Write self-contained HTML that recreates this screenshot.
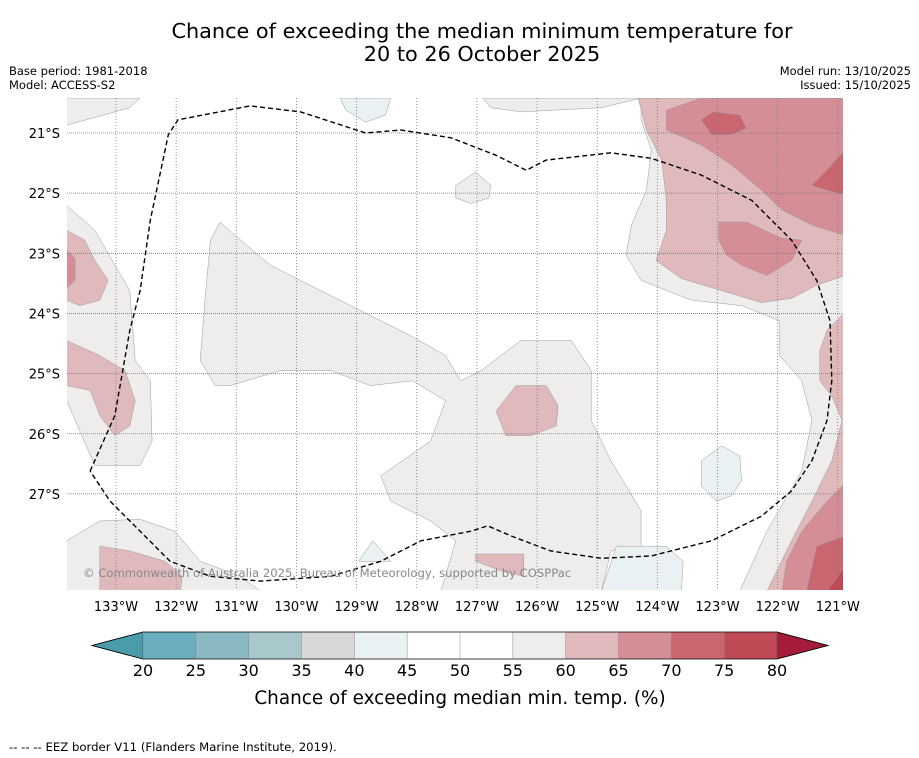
<!DOCTYPE html>
<html><head><meta charset="utf-8">
<style>
body{margin:0;background:#fff;font-family:"Liberation Sans","DejaVu Sans",sans-serif;}
#wrap{position:relative;width:919px;height:758px;overflow:hidden;background:#fff;}
</style></head>
<body>
<div id="wrap">
<svg id="svg" width="919" height="758" xmlns="http://www.w3.org/2000/svg">
<text x="482" y="38" font-size="20.8" text-anchor="middle" fill="#000" font-family="DejaVu Sans, sans-serif">Chance of exceeding the median minimum temperature for</text>
<text x="482" y="61" font-size="20.8" text-anchor="middle" fill="#000" font-family="DejaVu Sans, sans-serif">20 to 26 October 2025</text>
<text x="9" y="75" font-size="11.5" fill="#000" font-family="DejaVu Sans, sans-serif">Base period: 1981-2018</text>
<text x="9" y="89" font-size="11.5" fill="#000" font-family="DejaVu Sans, sans-serif">Model: ACCESS-S2</text>
<text x="911" y="75" font-size="11.5" text-anchor="end" fill="#000" font-family="DejaVu Sans, sans-serif">Model run: 13/10/2025</text>
<text x="911" y="89" font-size="11.5" text-anchor="end" fill="#000" font-family="DejaVu Sans, sans-serif">Issued: 15/10/2025</text>
<defs><clipPath id="mapclip"><rect x="67" y="98" width="776" height="492"/></clipPath></defs>
<g id="map" clip-path="url(#mapclip)">
<rect x="67" y="98" width="776" height="492" fill="#fff"/>
</g>
<g id="grid"></g>
<g id="eez" clip-path="url(#mapclip)"></g>
<text x="83" y="577" font-size="11.6" fill="#888" font-family="DejaVu Sans, sans-serif">© Commonwealth of Australia 2025, Bureau of Meteorology, supported by COSPPac</text>
<g id="axes"></g>
<g id="cbar"></g>
<text x="460" y="704" font-size="18.4" text-anchor="middle" fill="#000" font-family="DejaVu Sans, sans-serif">Chance of exceeding median min. temp. (%)</text>
<text x="9" y="751" font-size="11.7" fill="#000" font-family="DejaVu Sans, sans-serif">--  --  -- EEZ border V11 (Flanders Marine Institute, 2019).</text>
</svg>
</div>
<script>
// ---- data ----
const lonTicks = [133,132,131,130,129,128,127,126,125,124,123,122,121];
const latTicks = [21,22,23,24,25,26,27];
const levels = [20,25,30,35,40,45,50,55,60,65,70,75,80];
const levelColors = ["#6aadbc","#8ab9c4","#a9c8cb","#d8d8d8","#eaf1f3","#ffffff","#ffffff","#eeedec","#e0b9bd","#d58e96","#c9666f","#c04956"];
const lowArrowColor = "#4a9cab";
const highArrowColor = "#a51c3b";

// contour regions: [lonW, latS] pairs, band level index
const grey1 = [[124.27,20.42],[120.88,20.42],[120.88,28.62],[122.63,28.62],[122.18,27.62],[121.6,26.62],[121.43,25.78],[121.6,25.12],[121.97,24.7],[121.97,24.12],[122.6,23.87],[123.43,23.78],[124.27,23.45],[124.52,23.03],[124.43,22.53],[124.18,21.95],[124.1,21.28],[124.27,20.78]];
const grey2 = [[126.9,20.42],[124.27,20.42],[124.93,20.58],[126.27,20.65],[126.77,20.58]];
const grey3 = [[131.27,22.48],[131.02,22.7],[130.43,23.2],[129.6,23.62],[129.1,23.87],[128.6,24.12],[128.1,24.37],[127.52,24.7],[127.27,25.12],[126.93,24.95],[126.27,24.45],[125.43,24.45],[125.1,24.95],[125.1,25.78],[124.77,26.45],[124.27,27.28],[124.27,27.87],[124.77,27.95],[124.93,28.62],[125.93,28.62],[127.6,28.62],[127.35,27.78],[127.77,27.45],[128.43,27.12],[128.6,26.7],[127.77,26.12],[127.52,25.45],[128.07,25.12],[128.77,25.2],[129.43,24.95],[130.27,24.95],[131.1,25.2],[131.35,25.2],[131.6,24.78],[131.52,23.78],[131.43,22.78]];
const grey4 = [[133.82,22.2],[133.35,22.62],[132.77,23.62],[132.68,24.78],[132.43,25.12],[132.4,26.12],[132.6,26.53],[133.35,26.53],[133.82,25.45]];
const grey5 = [[133.82,27.78],[133.27,27.45],[132.6,27.42],[132.02,27.62],[131.6,28.12],[130.93,28.37],[130.6,28.62],[133.82,28.62]];
const grey6 = [[127.35,21.87],[127.02,21.65],[126.77,21.87],[126.8,22.08],[127.1,22.17],[127.35,22.08]];
const grey7 = [[133.82,20.42],[132.6,20.42],[132.77,20.58],[133.82,20.87]];
const blue1 = [[129.27,20.42],[128.43,20.42],[128.52,20.7],[128.85,20.82],[129.18,20.62]];
const blue2 = [[123.27,26.45],[122.93,26.2],[122.63,26.37],[122.6,26.78],[122.77,27.03],[123.02,27.12],[123.27,26.87]];
const blue3 = [[124.93,28.62],[124.68,27.87],[123.85,27.87],[123.57,28.12],[123.6,28.62]];
const blue4 = [[128.97,28.12],[128.73,27.78],[128.43,28.12]];
const pink1 = [[124.32,20.42],[120.88,20.42],[120.88,23.37],[121.35,23.53],[121.77,23.75],[122.27,23.82],[122.93,23.62],[123.6,23.42],[124.02,23.12],[123.85,22.62],[123.85,22.12],[123.93,21.45],[124.18,20.95]];
const pink2 = [[120.88,23.98],[121.18,24.28],[121.3,24.62],[121.3,25.12],[121.1,25.37],[120.93,25.78],[121.1,26.45],[121.43,27.12],[121.77,27.78],[122.18,28.62],[120.88,28.62]];
const pink3 = [[133.82,22.62],[133.52,22.78],[133.35,23.12],[133.13,23.45],[133.27,23.78],[133.6,23.87],[133.82,23.78]];
const pink4 = [[133.82,24.45],[133.27,24.7],[132.85,24.95],[132.68,25.45],[132.77,25.87],[133.02,26.03],[133.27,25.7],[133.43,25.28],[133.82,25.2]];
const pink5 = [[126.68,25.62],[126.35,25.2],[125.85,25.2],[125.65,25.53],[125.68,25.87],[126.1,26.03],[126.52,26.03]];
const pink6 = [[133.27,27.87],[132.77,27.95],[132.18,28.12],[131.9,28.37],[131.93,28.62],[133.27,28.62]];
const pink7 = [[127.02,28.0],[126.22,28.0],[126.22,28.37],[126.6,28.28],[127.02,28.12]];
const rose1 = [[123.85,20.62],[123.27,20.42],[120.88,20.42],[120.88,22.7],[121.43,22.53],[121.93,22.28],[122.27,21.95],[122.77,21.53],[123.27,21.2],[123.85,20.95]];
const rose2 = [[122.98,22.48],[122.52,22.48],[121.93,22.75],[121.6,22.78],[121.77,23.12],[122.18,23.37],[122.6,23.2],[122.85,23.03],[122.98,22.78]];
const rose3 = [[120.88,26.82],[121.18,27.12],[121.6,27.62],[121.85,28.12],[121.93,28.62],[120.88,28.62]];
const rose4 = [[133.82,22.95],[133.68,23.08],[133.68,23.45],[133.82,23.58]];
const red1 = [[123.27,20.78],[123.07,20.65],[122.63,20.7],[122.52,20.92],[122.77,21.03],[123.1,21.03]];
const red2 = [[121.43,21.87],[121.1,21.53],[120.88,21.28],[120.88,22.03],[121.18,21.95]];
const red3 = [[121.52,28.62],[121.35,27.87],[120.88,27.7],[120.88,28.62]];
const dark1 = [[121.18,28.62],[120.88,28.2],[120.88,28.62]];
const regions = [[grey1,7],[grey2,7],[grey3,7],[grey4,7],[grey5,7],[grey6,7],[grey7,7],[blue1,4],[blue2,4],[blue3,4],[blue4,4],[pink1,8],[pink2,8],[pink3,8],[pink4,8],[pink5,8],[pink6,8],[pink7,8],[rose1,9],[rose2,9],[rose3,9],[rose4,9],[red1,10],[red2,10],[red3,10],[dark1,11]];
const eezLine = [[133.43,26.62],[133.02,25.7],[132.77,24.28],[132.6,23.62],[132.43,22.45],[132.13,21.03],[131.97,20.78],[130.77,20.55],[129.93,20.65],[128.85,21.0],[128.27,20.95],[127.43,21.08],[126.68,21.37],[126.18,21.62],[125.85,21.45],[124.77,21.33],[124.1,21.42],[123.27,21.7],[122.43,22.12],[121.77,22.78],[121.35,23.45],[121.13,24.12],[121.1,25.12],[121.18,25.78],[121.43,26.45],[121.77,26.95],[122.27,27.37],[123.1,27.78],[124.1,28.03],[124.93,28.07],[125.77,27.95],[126.43,27.7],[126.82,27.53],[127.1,27.62],[127.93,27.78],[128.6,28.12],[129.43,28.37],[130.6,28.45],[131.43,28.37],[132.1,28.12],[132.6,27.62],[133.1,27.12],[133.43,26.62]];

// ---- axis functions ----
const NS = "http://www.w3.org/2000/svg";
const X0 = 116, Y0 = 133, PX = 60.15;
function xOf(lon){ return X0 + (133 - lon) * PX; }
function yOf(lat){ return Y0 + (lat - 21) * PX; }
function mk(tag, attrs, parent){ const e=document.createElementNS(NS,tag); for(const k in attrs) e.setAttribute(k,attrs[k]); parent.appendChild(e); return e; }
function pts(arr){ return arr.map(p=>xOf(p[0]).toFixed(1)+","+yOf(p[1]).toFixed(1)).join(" "); }

const map = document.getElementById("map");
regions.forEach((r,i)=>{
  const el = mk("polygon",{points:pts(r[0]),fill:levelColors[r[1]],stroke:"#9a9a9a","stroke-width":"0.5"},map);
  
  
});

const grid = document.getElementById("grid");
lonTicks.forEach(lon=>{
  const x = xOf(lon);
  const l = mk("line",{x1:x,y1:98,x2:x,y2:590,stroke:"#777","stroke-width":"0.8","stroke-dasharray":"1,2"},grid);
  
  
});
latTicks.forEach(lat=>{
  const y = yOf(lat);
  const l = mk("line",{x1:67,y1:y,x2:843,y2:y,stroke:"#777","stroke-width":"0.8","stroke-dasharray":"1,1"},grid);
  
  
});

const eez = document.getElementById("eez");
const eezEl = mk("polyline",{points:pts(eezLine),fill:"none",stroke:"#000","stroke-width":"1.4","stroke-dasharray":"5,3"},eez);



const axes = document.getElementById("axes");
lonTicks.forEach(lon=>{
  const t = mk("text",{x:xOf(lon),y:611,"font-size":"13","text-anchor":"middle","font-family":"DejaVu Sans, sans-serif",fill:"#000"},axes);
  t.textContent = lon + "°W";
  
  
});
latTicks.forEach(lat=>{
  const t = mk("text",{x:60,y:yOf(lat)+5,"font-size":"13","text-anchor":"end","font-family":"DejaVu Sans, sans-serif",fill:"#000"},axes);
  t.textContent = lat + "°S";
  
  
});

// colorbar
const cb = document.getElementById("cbar");
const CB0 = 143, CB1 = 777, CBY = 632, CBH = 27;
const step = (CB1 - CB0) / (levels.length - 1);
function cbX(v){ return CB0 + (v - levels[0]) / (levels[levels.length-1]-levels[0]) * (CB1 - CB0); }
const la = mk("polygon",{points:`${CB0},${CBY} ${CB0},${CBY+CBH} 92,${CBY+CBH/2}`,fill:lowArrowColor,stroke:"#000","stroke-width":"0.6"},cb);


for(let i=0;i<levelColors.length;i++){
  const r = mk("rect",{x:cbX(levels[i]),y:CBY,width:step+0.5,height:CBH,fill:levelColors[i]},cb);
  
  
}
const ha = mk("polygon",{points:`${CB1},${CBY} ${CB1},${CBY+CBH} 828,${CBY+CBH/2}`,fill:highArrowColor,stroke:"#000","stroke-width":"0.6"},cb);


const ol = mk("polygon",{points:`92,${CBY+CBH/2} ${CB0},${CBY} ${CB1},${CBY} 828,${CBY+CBH/2} ${CB1},${CBY+CBH} ${CB0},${CBY+CBH}`,fill:"none",stroke:"#000","stroke-width":"0.8"},cb);


levels.forEach(v=>{
  const x = cbX(v);
  const d = mk("line",{x1:x,y1:CBY,x2:x,y2:CBY+CBH,stroke:"#888","stroke-width":"0.5"},cb);
  
  
  const t = mk("text",{x:x,y:676,"font-size":"16","text-anchor":"middle","font-family":"DejaVu Sans, sans-serif",fill:"#000"},cb);
  t.textContent = v;
  
  
});
</script>
</body></html>
